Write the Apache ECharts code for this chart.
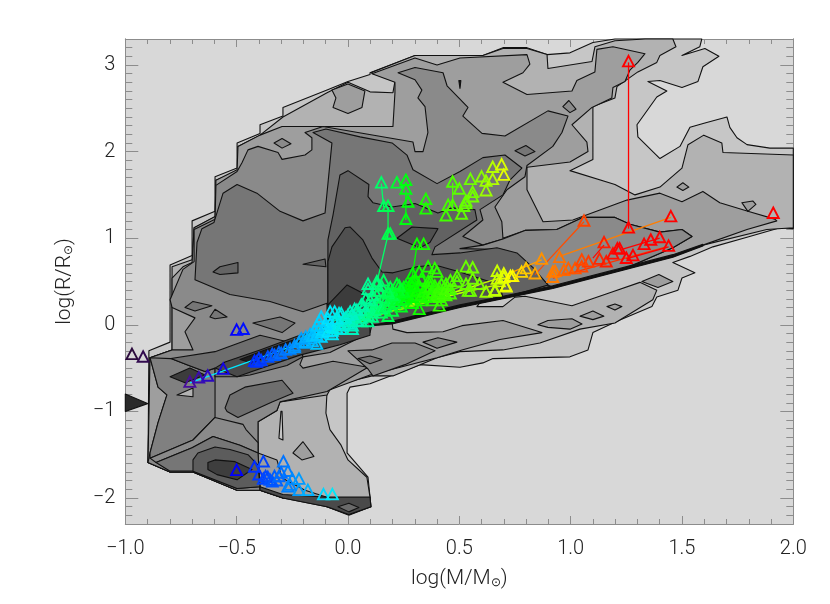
<!DOCTYPE html>
<html>
<head>
<meta charset="UTF-8">
<title></title>
<style type="text/css">
* { margin: 0; padding: 0; }
html, body { background: #fff; }
#main { width: 830px; height: 604px; }
</style>
</head>
<body>
<div id="main"></div>
<script src="https://cdn.jsdelivr.net/npm/echarts@6/dist/echarts.min.js"></script>
<script type="text/javascript">
var yTicks = [-2, -1, 0, 1, 2, 3];

// contour outlines, [log M, log R]
var level1 = [[-0.799,0.69],[-0.7,0.8],[-0.7,1.2],[-0.597,1.31],[-0.597,1.71],[-0.498,1.81],[-0.498,2.1],[-0.395,2.21],[-0.395,2.31],[-0.292,2.41],[-0.292,2.51],[-0.094,2.71],[0,2.81],[0.099,2.89],[0.099,2.91],[0.301,3.11],[0.606,3.11],[0.696,3.2],[0.804,3.2],[0.894,3.12],[0.997,3.14],[1.1,3.26],[1.199,3.3],[1.589,3.3],[1.58,3.21],[1.5,3.11],[1.603,3.19],[1.666,3.1],[1.594,2.98],[1.572,2.81],[1.5,2.74],[1.401,2.82],[1.347,2.81],[1.432,2.7],[1.387,2.63],[1.298,2.31],[1.302,2.17],[1.401,1.92],[1.491,2.06],[1.536,2.28],[1.603,2.33],[1.702,2.4],[1.715,2.28],[1.747,2.16],[1.792,2.08],[1.895,2.04],[2,2.04],[2,1.11],[1.94,1.12],[1.792,1.01],[1.639,0.9],[1.536,0.79],[1.459,0.72],[1.558,0.6],[1.5,0.54],[1.482,0.4],[1.387,0.32],[1.365,0.21],[1.208,0.04],[1.1,-0.09],[1.078,-0.29],[0.997,-0.37],[0.651,-0.39],[0.606,-0.44],[0.503,-0.49],[0.323,-0.46],[0.099,-0.68],[0.009,-0.72],[-0.004,-0.79],[-0.004,-1.48],[0.09,-1.76],[0.099,-1.99],[0.103,-2.1],[0.004,-2.2],[-0.094,-2.1],[-0.202,-2],[-0.292,-2],[-0.395,-1.91],[-0.498,-1.91],[-0.696,-1.7],[-0.799,-1.7],[-0.898,-1.59],[-0.894,-0.3],[-0.799,-0.2]];
var level2 = [[-0.79,-0.29],[-0.79,0.67],[-0.7,0.75],[-0.691,1.12],[-0.593,1.25],[-0.593,1.67],[-0.494,1.77],[-0.494,2.06],[-0.395,2.19],[-0.292,2.4],[-0.094,2.68],[0,2.8],[0.081,2.71],[0.099,2.69],[0.202,2.68],[0.211,2.81],[0.103,2.91],[0.301,3.11],[0.606,3.11],[0.696,3.19],[0.804,3.19],[0.894,3.12],[0.898,2.96],[1.096,3.04],[1.109,3.21],[1.199,3.28],[1.334,3.3],[1.459,3.3],[1.473,3.21],[1.401,3.11],[1.387,3.03],[1.302,2.92],[1.208,2.75],[1.199,2.62],[1.1,2.52],[1.1,1.91],[0.997,1.78],[1.199,1.62],[1.289,1.5],[1.401,1.59],[1.5,1.81],[1.527,2.08],[1.598,2.19],[1.679,2.1],[1.684,1.99],[2,1.96],[2,1.12],[1.881,1.1],[1.594,0.92],[1.459,0.79],[1.235,0.64],[0.92,0.43],[0.696,0.31],[0.606,0.3],[0.579,0.21],[0.696,0.21],[0.75,0.32],[0.795,0.33],[1.006,0.22],[1.176,0.37],[1.311,0.49],[1.387,0.4],[1.369,0.29],[1.199,0.02],[1.042,-0.05],[0.862,-0.21],[0.696,-0.29],[0.503,-0.31],[0.4,-0.38],[0.202,-0.59],[0.108,-0.59],[-0.036,-0.68],[-0.094,-0.77],[-0.099,-1.02],[-0.081,-1.21],[-0.031,-1.39],[0,-1.56],[0.085,-1.76],[0.099,-1.99],[0.103,-2.1],[0.004,-2.19],[-0.094,-2.1],[-0.202,-2],[-0.292,-2],[-0.395,-1.91],[-0.498,-1.91],[-0.696,-1.7],[-0.799,-1.7],[-0.898,-1.59],[-0.889,-0.38]];
var level3 = [[-0.889,-0.38],[-0.79,-0.29],[-0.79,0.54],[-0.741,0.67],[-0.7,0.72],[-0.691,1.12],[-0.597,1.25],[-0.593,1.67],[-0.498,1.79],[-0.494,2.06],[-0.395,2.19],[-0.296,2.29],[0.202,2.29],[0.211,2.68],[0.211,2.8],[0.108,2.9],[0.301,3.08],[0.4,3],[0.503,3.08],[0.804,3.12],[0.817,3.01],[0.786,2.91],[0.696,2.8],[0.804,2.66],[1.006,2.7],[1.028,2.82],[1.109,2.92],[1.118,3.18],[1.19,3.21],[1.334,3.13],[1.302,3.03],[1.266,2.94],[1.244,2.81],[1.19,2.74],[1.185,2.62],[1.096,2.51],[1.006,2.31],[1.073,2.11],[1.078,2],[0.997,1.88],[0.804,1.82],[0.804,1.56],[0.876,1.19],[1.01,1.21],[1.253,1.44],[1.401,1.52],[1.5,1.42],[1.594,1.54],[1.67,1.41],[1.796,1.31],[1.917,1.22],[1.926,1.2],[1.792,1.1],[1.594,0.92],[1.459,0.79],[1.235,0.64],[0.92,0.43],[0.696,0.31],[0.503,0.21],[0.198,0.03],[0.202,-0.05],[0.265,-0.09],[0.427,-0.08],[0.512,-0.01],[0.696,0.05],[0.871,-0.09],[0.682,-0.17],[0.512,-0.29],[0.4,-0.38],[0.099,-0.58],[-0.081,-0.75],[-0.094,-0.81],[-0.305,-0.89],[-0.319,-0.99],[-0.404,-1.12],[-0.404,-1.48],[-0.319,-1.56],[-0.296,-1.77],[-0.193,-1.91],[-0.094,-1.99],[-0.094,-2.1],[-0.292,-2],[-0.395,-1.91],[-0.498,-1.91],[-0.696,-1.7],[-0.799,-1.7],[-0.898,-1.59]];
var level4 = [[-0.889,-0.38],[-0.79,-0.29],[-0.696,-0.29],[-0.732,-0.08],[-0.687,0.08],[-0.79,0.2],[-0.799,0.29],[-0.741,0.64],[-0.691,0.73],[-0.691,1.1],[-0.597,1.22],[-0.593,1.61],[-0.498,1.77],[-0.476,1.87],[-0.449,2.02],[-0.404,2.06],[-0.314,1.99],[-0.296,1.91],[-0.193,1.96],[-0.162,2.02],[-0.162,2.16],[-0.193,2.22],[-0.112,2.29],[0.292,2.11],[0.301,2],[0.337,2],[0.359,2.22],[0.346,2.52],[0.314,2.62],[0.332,2.71],[0.301,2.83],[0.225,2.91],[0.301,2.97],[0.427,2.91],[0.445,2.76],[0.539,2.51],[0.516,2.41],[0.602,2.21],[0.705,2.18],[0.898,2.47],[0.988,2.41],[0.961,2.22],[0.92,2.06],[0.804,1.84],[0.795,1.71],[0.714,1.56],[0.66,1.36],[0.691,1.19],[0.696,1],[0.795,1.09],[0.938,1.1],[1.055,1.24],[1.199,1.24],[1.266,1.16],[1.401,1.07],[1.5,1.1],[1.545,1.02],[1.459,0.89],[1.235,0.64],[0.92,0.43],[0.696,0.31],[0.503,0.21],[0.198,0.02],[0.108,0],[0.099,-0.09],[-0.081,-0.32],[-0.202,-0.37],[-0.216,-0.46],[-0.202,-0.5],[-0.067,-0.42],[0.09,-0.49],[-0.094,-0.77],[-0.305,-0.89],[-0.319,-0.99],[-0.404,-1.12],[-0.404,-1.48],[-0.395,-1.91],[-0.498,-1.91],[-0.696,-1.7],[-0.799,-1.7],[-0.898,-1.59],[-0.889,-1.48],[-0.853,-1.13],[-0.813,-0.81],[-0.853,-0.72]];
var level5 = [[-0.687,0.52],[-0.678,0.95],[-0.656,1.11],[-0.602,1.18],[-0.561,1.52],[-0.498,1.62],[-0.409,1.52],[-0.305,1.31],[-0.202,1.2],[-0.103,1.29],[-0.072,2.1],[-0.157,2.22],[-0.099,2.26],[0.054,2.17],[0.198,2.1],[0.265,1.96],[0.292,1.79],[0.4,1.63],[0.503,1.77],[0.606,1.93],[0.705,1.96],[0.781,1.81],[0.727,1.67],[0.696,1.5],[0.593,1.33],[0.606,1.21],[0.516,1.02],[0.606,0.92],[0.696,0.99],[0.898,0.46],[0.696,0.31],[0.503,0.21],[0.198,0.02],[0.108,0],[0.009,0.08],[-0.094,0.03],[-0.094,0.25],[-0.202,0.15],[-0.35,0.27],[-0.53,0.35]];
var bandRight = [[0.503,0.88],[0.606,0.92],[0.696,0.99],[0.795,1.09],[0.938,1.1],[1.055,1.24],[1.199,1.24],[1.266,1.16],[1.401,1.07],[1.5,1.1],[1.545,1.02],[1.459,0.89],[1.235,0.64],[0.92,0.43],[0.898,0.46],[0.84,0.61],[0.786,0.72],[0.696,0.87]];
var level6 = [[0.377,0.81],[0.391,0.9],[0.579,1.21],[0.57,1.33],[0.467,1.35],[0.404,1.29],[0.301,1.4],[0.198,1.36],[0.112,1.41],[0.09,1.48],[0.094,1.62],[0,1.78],[-0.036,1.73],[-0.067,1.27],[-0.09,0.98],[-0.09,0.73],[-0.09,0.23],[-0.013,0.08],[0.108,0],[0.198,0.02],[0.503,0.21],[0.696,0.31],[0.898,0.46],[0.831,0.66],[0.759,0.83],[0.669,0.89],[0.503,0.83]];
var level7 = [[-0.09,0.73],[-0.072,0.9],[-0.013,1.12],[0.009,1.13],[0.067,0.98],[0.108,0.77],[0.153,0.61],[0.202,0.6],[0.31,0.67],[0.391,0.69],[0.503,0.61],[0.682,0.46],[0.696,0.31],[0.503,0.21],[0.198,0.02],[0.108,0],[-0.013,0.08],[-0.09,0.23]];
var blobUpper = [[0.22,1],[0.287,1.13],[0.404,1.11],[0.368,0.95],[0.323,0.89]];
var level8 = [[-0.09,0.23],[-0.004,0.46],[0.063,0.37],[0.108,0.23],[0.108,0],[-0.013,-0.08],[-0.09,-0.17]];
var ridgeStrip = [[-0.597,-0.5],[-0.498,-0.6],[-0.431,-0.54],[-0.216,-0.35],[-0.036,-0.23],[0.099,-0.12],[0.099,0.03],[0.009,0.06],[-0.216,-0.12],[-0.395,-0.29],[-0.552,-0.43]];
var ridgeCore = [[-0.485,-0.4],[-0.382,-0.3],[-0.216,-0.15],[-0.193,-0.21],[-0.305,-0.31],[-0.431,-0.44]];
var ridgeLeft = [[-0.799,-0.6],[-0.71,-0.5],[-0.642,-0.58],[-0.732,-0.67]];
var ridgeEdge = [[0.108,-0.01],[0.198,0.01],[0.503,0.2],[0.696,0.3],[0.92,0.42],[1.235,0.63],[1.459,0.78],[1.594,0.91],[1.594,0.93],[1.459,0.81],[1.235,0.66],[0.92,0.45],[0.696,0.33],[0.503,0.23],[0.198,0.04]];
var lobeMiddle = [[-0.795,-0.39],[-0.597,-0.31],[-0.395,-0.12],[-0.216,-0.23],[-0.202,-0.37],[-0.274,-0.47],[-0.44,-0.58],[-0.498,-0.6],[-0.597,-0.6],[-0.597,-0.5],[-0.642,-0.54],[-0.723,-0.46]];
var zoneLeft = [[-0.597,-0.61],[-0.597,-1.07],[-0.696,-1.33],[-0.889,-1.54],[-0.889,-1.48],[-0.853,-1.13],[-0.813,-0.81],[-0.853,-0.72],[-0.889,-0.38],[-0.795,-0.39],[-0.723,-0.46],[-0.642,-0.54],[-0.597,-0.5]];
var bandLower = [[-0.889,-1.54],[-0.696,-1.33],[-0.597,-1.07],[-0.471,-1.15],[-0.458,-1.21],[-0.404,-1.36],[-0.404,-1.48],[-0.485,-1.39],[-0.606,-1.29],[-0.7,-1.42],[-0.862,-1.59]];
var humpOuter = [[-0.862,-1.59],[-0.7,-1.42],[-0.606,-1.29],[-0.485,-1.39],[-0.404,-1.48],[-0.395,-1.87],[-0.498,-1.89],[-0.696,-1.69],[-0.799,-1.69]];
var humpMiddle = [[-0.696,-1.69],[-0.696,-1.56],[-0.674,-1.48],[-0.597,-1.41],[-0.53,-1.44],[-0.449,-1.5],[-0.404,-1.62],[-0.395,-1.87],[-0.498,-1.89]];
var humpInner = [[-0.629,-1.59],[-0.597,-1.56],[-0.507,-1.58],[-0.431,-1.67],[-0.498,-1.79],[-0.588,-1.73],[-0.629,-1.67]];
var bandBottom = [[-0.395,-1.87],[-0.292,-1.96],[-0.094,-1.99],[0.099,-1.99],[0.103,-2.1],[0.004,-2.19],[-0.094,-2.1],[-0.292,-2],[-0.395,-1.91]];
var diamondBottom = [[-0.045,-2.1],[0.004,-2.06],[0.049,-2.11],[0.004,-2.16]];
var blobLower = [[-0.552,-0.96],[-0.53,-0.81],[-0.463,-0.72],[-0.296,-0.64],[-0.247,-0.79],[-0.341,-0.89],[-0.494,-1.07],[-0.543,-1]];
var lobeA = [[-0.606,0.61],[-0.575,0.67],[-0.494,0.72],[-0.494,0.6],[-0.575,0.58]];
var lobeB = [[-0.202,0.7],[-0.103,0.76],[-0.099,0.67]];
var diamondA = [[-0.332,2.1],[-0.296,2.15],[-0.256,2.09],[-0.296,2.04]];
var hexTop = [[-0.072,2.71],[0,2.78],[0.076,2.7],[0.063,2.51],[0,2.44],[-0.067,2.51],[-0.054,2.62]];
var markTop = [[0.498,2.82],[0.507,2.82],[0.503,2.73]];
var diamondB = [[0.965,2.52],[0.992,2.59],[1.024,2.49],[0.997,2.45]];
var diamondC = [[0.75,2.01],[0.799,2.07],[0.84,2],[0.795,1.95]];
var diamondD = [[1.477,1.59],[1.504,1.64],[1.531,1.59],[1.504,1.55]];
var diamondE = [[1.769,1.41],[1.818,1.43],[1.832,1.39],[1.796,1.31]];
var diamondF = [[1.32,0.5],[1.396,0.58],[1.459,0.5],[1.392,0.43]];
var diamondG = [[1.042,0.1],[1.1,0.16],[1.149,0.1],[1.1,0.06]];
var diamondH = [[1.163,0.21],[1.199,0.24],[1.23,0.21],[1.199,0.17]];
var hexLow = [[0.853,0],[0.898,0.05],[1.006,0.07],[1.051,0.01],[0.997,-0.05],[0.898,-0.03]];
var spike = [[-0.301,-1],[-0.31,-1.31],[-0.292,-1.33],[-0.296,-1]];
var diamondLow = [[-0.247,-1.48],[-0.202,-1.35],[-0.153,-1.52],[-0.207,-1.56]];
var shapeD = [[0,-0.3],[0.108,-0.29],[0.198,-0.21],[0.301,-0.21],[0.391,-0.3],[0.256,-0.46],[0.112,-0.59],[0.09,-0.51]];
var diamondI = [[0.045,-0.39],[0.099,-0.36],[0.153,-0.4],[0.099,-0.45]];
var diamondJ = [[0.337,-0.2],[0.404,-0.15],[0.489,-0.2],[0.4,-0.27]];
var diamondK = [[-0.427,0.02],[-0.305,0.09],[-0.238,0.02],[-0.296,-0.09]];
var diamondL = [[-0.732,0.2],[-0.696,0.27],[-0.611,0.22],[-0.687,0.16]];
var diamondM = [[-0.62,0.09],[-0.597,0.18],[-0.543,0.09],[-0.597,0.07]];
var triLight = [[-0.768,-0.81],[-0.696,-0.73],[-0.696,-0.83]];
var wedgeEdge = [[-1,-0.8],[-0.9,-0.91],[-1,-1]];

var contourList = [
	[level1, '#c6c6c6'], [level2, '#b2b2b2'], [level3, '#9e9e9e'], [level4, '#8a8a8a'], [level5, '#767676'],
	[bandRight, '#8a8a8a'], [level6, '#626262'], [level7, '#505050'], [blobUpper, '#505050'], [level8, '#3c3c3c'],
	[zoneLeft, '#808080'], [bandLower, '#8a8a8a'], [lobeMiddle, '#6e6e6e'], [ridgeStrip, '#4a4a4a'], [ridgeCore, '#1e1e1e'], [ridgeLeft, '#3c3c3c'], [ridgeEdge, '#111111'],
	[humpOuter, '#767676'], [humpMiddle, '#5c5c5c'], [humpInner, '#3e3e3e'], [bandBottom, '#4a4a4a'], [diamondBottom, '#6a6a6a'],
	[blobLower, '#6e6e6e'], [lobeA, '#646464'], [lobeB, '#646464'], [diamondA, '#8a8a8a'], [hexTop, '#9e9e9e'], [markTop, '#111111'],
	[diamondB, '#8a8a8a'], [diamondC, '#767676'], [diamondD, '#9e9e9e'], [diamondE, '#9e9e9e'], [diamondF, '#9e9e9e'], [diamondG, '#9e9e9e'],
	[diamondH, '#9e9e9e'], [hexLow, '#9e9e9e'], [spike, '#c6c6c6'], [diamondLow, '#9e9e9e'], [shapeD, '#8a8a8a'], [diamondI, '#767676'],
	[diamondJ, '#8a8a8a'], [diamondK, '#767676'], [diamondL, '#767676'], [diamondM, '#767676'], [triLight, '#b2b2b2'], [wedgeEdge, '#2a2a2a']
];

// stars
var starsLeft = [[-0.97,-0.35],[-0.92,-0.38],[-0.71,-0.67],[-0.67,-0.62],[-0.63,-0.6],[-0.56,-0.52],[-0.5,-0.07],[-0.47,-0.06],[-0.5,-1.69]];
var starsRidge = [[-0.42,-0.43],[-0.4,-0.4],[-0.36,-0.38],[-0.34,-0.35],[-0.31,-0.33],[-0.26,-0.29],[-0.22,-0.21],[-0.41,-0.44],[-0.39,-0.42],[-0.33,-0.36],[-0.3,-0.34],[-0.28,-0.3],[-0.24,-0.27],[-0.2,-0.22]];
var starsBottom = [[-0.42,-1.65],[-0.38,-1.59],[-0.4,-1.74],[-0.38,-1.79],[-0.36,-1.77],[-0.33,-1.76],[-0.32,-1.81],[-0.29,-1.59],[-0.27,-1.7],[-0.27,-1.88],[-0.25,-1.79],[-0.22,-1.79],[-0.22,-1.92],[-0.18,-1.92],[-0.11,-1.97],[-0.07,-1.97],[-0.37,-1.76],[-0.35,-1.8],[-0.34,-1.82],[-0.31,-1.76],[-0.3,-1.72],[-0.26,-1.86]];
var starsFan = [[-0.24,-0.25],[-0.19,-0.21],[-0.17,-0.17],[-0.21,-0.17],[-0.19,-0.15],[-0.17,-0.12],[-0.15,-0.08],[-0.13,-0.06],[-0.1,-0.03],[-0.08,0],[-0.06,0.03],[-0.04,0],[-0.01,0.03],[0.01,0.06],[0.03,0.08],[0.05,0.12],[0.08,0.15],[0.1,0.17],[0.12,0.21],[0.14,0.23],[0.17,0.27],[0.19,0.29],[0.21,0.31],[0.23,0.32],[0.26,0.35],[0.28,0.37],[0.3,0.4],[0.32,0.43],[0.35,0.4],[0.37,0.35],[0.39,0.32],[0.41,0.31],[0.44,0.33],[0.46,0.35]];
var starsFanLow = [[-0.16,-0.2],[-0.14,-0.23],[-0.12,-0.15],[-0.07,-0.12],[-0.07,-0.08],[-0.03,-0.06],[0.02,-0.06],[0.02,-0.02],[0.06,0.03],[0.09,0.03],[0.11,0.08],[0.15,0.13],[0.18,0.09],[0.2,0.15],[0.24,0.2],[0.29,0.24],[0.32,0.17],[0.33,0.27],[0.38,0.27],[0.41,0.21],[0.42,0.27]];
var starsFanHigh = [[-0.13,0.03],[-0.12,0.08],[-0.09,0.06],[-0.08,0.14],[-0.06,0.14],[-0.04,0.12],[-0.03,0.12],[0,0.1],[0.01,0.14],[0.03,0.17],[0.06,0.22],[0.08,0.29],[0.09,0.4],[0.11,0.33],[0.13,0.46],[0.14,0.38],[0.18,0.35],[0.2,0.33],[0.23,0.37],[0.25,0.37],[0.28,0.46],[0.29,0.49],[0.32,0.44],[0.36,0.49],[0.37,0.43],[0.41,0.37],[0.41,0.42],[0.46,0.4],[0.49,0.49]];
var starsFanDense = [[-0.16,-0.14],[-0.14,-0.13],[-0.12,-0.1],[-0.11,-0.07],[-0.09,-0.09],[-0.07,-0.04],[-0.05,-0.05],[-0.03,-0.02],[-0.02,0.05],[0,0],[0.02,0.03],[0.04,0.04],[0.06,0.07],[0.07,0.1],[0.09,0.1],[0.11,0.13],[0.12,0.16],[0.13,0.25],[0.15,0.18],[0.16,0.3],[0.17,0.2],[0.19,0.23],[0.2,0.38],[0.21,0.24],[0.22,0.27],[0.24,0.28],[0.25,0.42],[0.26,0.29],[0.27,0.33],[0.29,0.31],[0.3,0.34],[0.31,0.38],[0.33,0.33],[0.34,0.37],[0.35,0.31],[0.36,0.42],[0.38,0.36],[0.39,0.44],[0.4,0.34],[0.42,0.46],[0.43,0.35],[0.44,0.46],[0.46,0.5],[0.12,0.38],[0.1,0.27],[0.07,0.2],[0.04,0.16],[0.02,0.11],[-0.01,0.07],[-0.05,0.06],[-0.1,0],[-0.14,-0.02],[0.15,0.44],[0.16,0.5],[0.19,0.42],[0.22,0.46],[0.26,0.44],[0.3,0.5],[0.33,0.52]];
var starsMiddle = [[0.09,0.46],[0.13,0.49],[0.18,0.37],[0.23,0.44],[0.29,0.58],[0.32,0.6],[0.36,0.66],[0.39,0.64],[0.4,0.6],[0.29,0.44],[0.37,0.49],[0.44,0.4],[0.49,0.55],[0.53,0.66],[0.56,0.65],[0.53,0.46],[0.56,0.52],[0.59,0.46],[0.55,0.38],[0.62,0.37],[0.66,0.38],[0.67,0.61],[0.7,0.58],[0.74,0.55],[0.71,0.44],[0.68,0.49],[0.78,0.6],[0.8,0.64],[0.84,0.58],[0.87,0.75],[0.92,0.6],[0.95,0.77],[0.99,0.64],[0.67,0.52],[0.7,0.54],[0.73,0.55],[0.71,0.43],[0.66,0.39],[0.54,0.38],[0.93,0.61],[0.97,0.62],[0.92,0.54]];
var starsRed = [[1.02,0.64],[1.05,0.66],[1.08,0.72],[1.05,0.74],[1.13,0.75],[1.16,0.72],[1.19,0.81],[1.21,0.87],[1.22,0.87],[1.25,0.76],[1.28,0.79],[1.33,0.92],[1.36,0.97],[1.4,1],[1.44,0.9],[1.15,0.94],[1.26,1.11],[1.06,1.19],[1.45,1.24],[1.91,1.28],[1.26,3.03]];
var starsUpper = [[0.15,1.63],[0.22,1.63],[0.26,1.66],[0.26,1.56],[0.27,1.41],[0.16,1.36],[0.18,1.36],[0.26,1.21],[0.18,1.04],[0.19,1.04],[0.31,0.92],[0.34,0.92],[0.35,1.44],[0.35,1.33],[0.47,1.64],[0.5,1.56],[0.45,1.37],[0.47,1.37],[0.44,1.25],[0.51,1.27],[0.55,1.67],[0.6,1.7],[0.65,1.81],[0.69,1.84],[0.7,1.72],[0.65,1.67],[0.62,1.65],[0.62,1.54],[0.56,1.52],[0.56,1.47],[0.53,1.42],[0.52,1.36],[0.53,1.39]];
var allStars = starsLeft.concat(starsRidge, starsBottom, starsFanLow, starsFan, starsFanDense, starsFanHigh, starsMiddle, starsUpper, starsRed);

// binary links: x1, y1, x2, y2, mass that sets the colour
var links = [[-0.71,-0.67,-0.08,-0.09,-0.08],[-0.22,-0.17,0.12,0.29,0.05],[-0.13,-0.12,0.23,0.29,0.15],[-0.05,-0.02,0.37,0.46,0.35],[0.01,0,0.32,0.4,0.32],[0.05,0.03,0.53,0.46,0.5],[0.23,0.17,0.55,0.4,0.55],[0.19,0.15,0.59,0.46,0.59],[0.27,0.23,0.67,0.46,0.67],[0.37,0.29,0.68,0.54,0.68],[0.18,1.04,0.13,0.49,0.15],[0.31,0.92,0.29,0.58,0.29],[0.15,1.63,0.16,1.36,0.15],[0.18,1.36,0.18,1.04,0.18],[0.26,1.56,0.26,1.21,0.26],[0.47,1.64,0.47,1.37,0.47],[0.73,0.6,0.87,0.75,0.85],[0.84,0.58,1.06,1.19,1.04],[0.95,0.79,1.45,1.24,0.92],[0.92,0.54,1.43,0.9,1.1],[1.1,0.77,1.15,0.92,1.2],[1.23,0.87,1.4,1,1.25],[1.25,0.76,1.44,0.9,1.25],[1.26,1.11,1.26,3.03,1.25]];

// colour table along log M
var colorMass = [-1, -0.72, -0.5, -0.08, 0.12, 0.28, 0.59, 0.73, 0.86, 1.08, 1.22, 2];
var colorRamp = [[40,10,50],[75,15,150],[0,0,255],[0,232,255],[0,255,128],[0,255,0],[128,255,0],[255,255,0],[255,150,0],[255,60,0],[255,0,0],[255,0,0]];

function massColor(m) {
	var i = 0;
	while (i < colorMass.length - 2 && m > colorMass[i + 1]) i++;
	var t = Math.max(0, Math.min(1, (m - colorMass[i]) / (colorMass[i + 1] - colorMass[i])));
	var a = colorRamp[i], b = colorRamp[i + 1];
	return 'rgb(' + Math.round(a[0] + (b[0] - a[0]) * t) + ',' + Math.round(a[1] + (b[1] - a[1]) * t) + ',' + Math.round(a[2] + (b[2] - a[2]) * t) + ')';
}

function frameAxis(extra) {
	var ax = {
		axisLine: { show: true, onZero: false, lineStyle: { color: '#8c8c8c', width: 1 } },
		axisLabel: { show: false },
		splitLine: { show: false },
		axisTick: { show: true, inside: true, length: 8, lineStyle: { color: '#8c8c8c', width: 1 } }
	};
	for (var k in extra) ax[k] = extra[k];
	return ax;
}

var labelFont = 'Roboto, "Liberation Sans", sans-serif';
function xLabel(v) { return (v < 0 ? '\u2212' : '') + Math.abs(v).toFixed(1); }
function yLabel(v) { return (v < 0 ? '\u2212' : '') + Math.abs(v); }
function nameRich() {
	return {
		fontFamily: labelFont, fontWeight: 300, fontSize: 21, color: '#222',
		rich: { sun: { fontFamily: 'DejaVu Sans', fontSize: 12, color: '#222', verticalAlign: 'bottom', padding: [8, 0, 0, 0] } }
	};
}

var xMinor = { show: true, splitNumber: 5, length: 5, lineStyle: { color: '#8c8c8c', width: 1 } };

var chart = echarts.init(document.getElementById('main'), null, { renderer: 'canvas' });
chart.setOption({
	animation: false,
	backgroundColor: '#fff',
	grid: { left: 125.3, top: 39, width: 668, height: 485, show: true, backgroundColor: '#d8d8d8', borderWidth: 0 },
	xAxis: [
		frameAxis({ type: 'value', position: 'bottom', min: -1, max: 2, interval: 0.5, minorTick: xMinor,
			axisLabel: { show: true, margin: 15, fontFamily: labelFont, fontWeight: 300, fontSize: 20, color: '#222', formatter: xLabel },
			name: 'log(M/M{sun|\u2299})', nameLocation: 'middle', nameGap: 44, nameTextStyle: nameRich() }),
		frameAxis({ type: 'value', position: 'top', min: -1, max: 2, interval: 0.5, minorTick: xMinor })
	],
	yAxis: [
		frameAxis({ type: 'value', position: 'left', min: -2.3, max: 3.3,
			axisTick: { show: true, inside: true, length: 13, customValues: yTicks, lineStyle: { color: '#8c8c8c', width: 1 } },
			axisLabel: { show: true, margin: 10, customValues: yTicks, fontFamily: labelFont, fontWeight: 300, fontSize: 20, color: '#222', formatter: yLabel },
			name: 'log(R/R{sun|\u2299})', nameLocation: 'middle', nameGap: 50, nameRotate: 90, nameTextStyle: nameRich() }),
		frameAxis({ type: 'value', position: 'left', min: -2.3, max: 3.3, interval: 0.1,
			axisTick: { show: true, inside: true, length: 7, lineStyle: { color: '#8c8c8c', width: 1 } } }),
		frameAxis({ type: 'value', position: 'right', min: -2.3, max: 3.3,
			axisTick: { show: true, inside: true, length: 13, customValues: yTicks, lineStyle: { color: '#8c8c8c', width: 1 } } }),
		frameAxis({ type: 'value', position: 'right', min: -2.3, max: 3.3, interval: 0.1,
			axisTick: { show: true, inside: true, length: 7, lineStyle: { color: '#8c8c8c', width: 1 } } })
	],
	series: [
		{
			type: 'custom', coordinateSystem: 'cartesian2d', silent: true, z: 2,
			data: contourList.map(function(c, i) { return [c[0][0][0], c[0][0][1], i]; }),
			renderItem: function(params, api) {
				var item = contourList[api.value(2)];
				return {
					type: 'polygon',
					shape: { points: item[0].map(function(p) { return api.coord(p); }) },
					style: { fill: item[1], stroke: '#111', lineWidth: 1.1, lineJoin: 'round' }
				};
			}
		},
		{
			type: 'custom', coordinateSystem: 'cartesian2d', silent: true, z: 3,
			data: links,
			renderItem: function(params, api) {
				var a = api.coord([api.value(0), api.value(1)]);
				var b = api.coord([api.value(2), api.value(3)]);
				return {
					type: 'line',
					shape: { x1: a[0], y1: a[1], x2: b[0], y2: b[1] },
					style: { stroke: massColor(api.value(4)), lineWidth: 1.3 }
				};
			}
		},
		{
			type: 'custom', coordinateSystem: 'cartesian2d', silent: true, z: 4,
			data: allStars,
			renderItem: function(params, api) {
				var m = api.value(0);
				var c = api.coord([m, api.value(1)]);
				return {
					type: 'polygon',
					shape: { points: [[c[0], c[1] - 6.5], [c[0] + 5.5, c[1] + 4], [c[0] - 5.5, c[1] + 4]] },
					style: { fill: 'rgba(0,0,0,0)', stroke: massColor(m), lineWidth: 1.9, lineJoin: 'miter' }
				};
			}
		}
	]
});
</script>
</body>
</html>
